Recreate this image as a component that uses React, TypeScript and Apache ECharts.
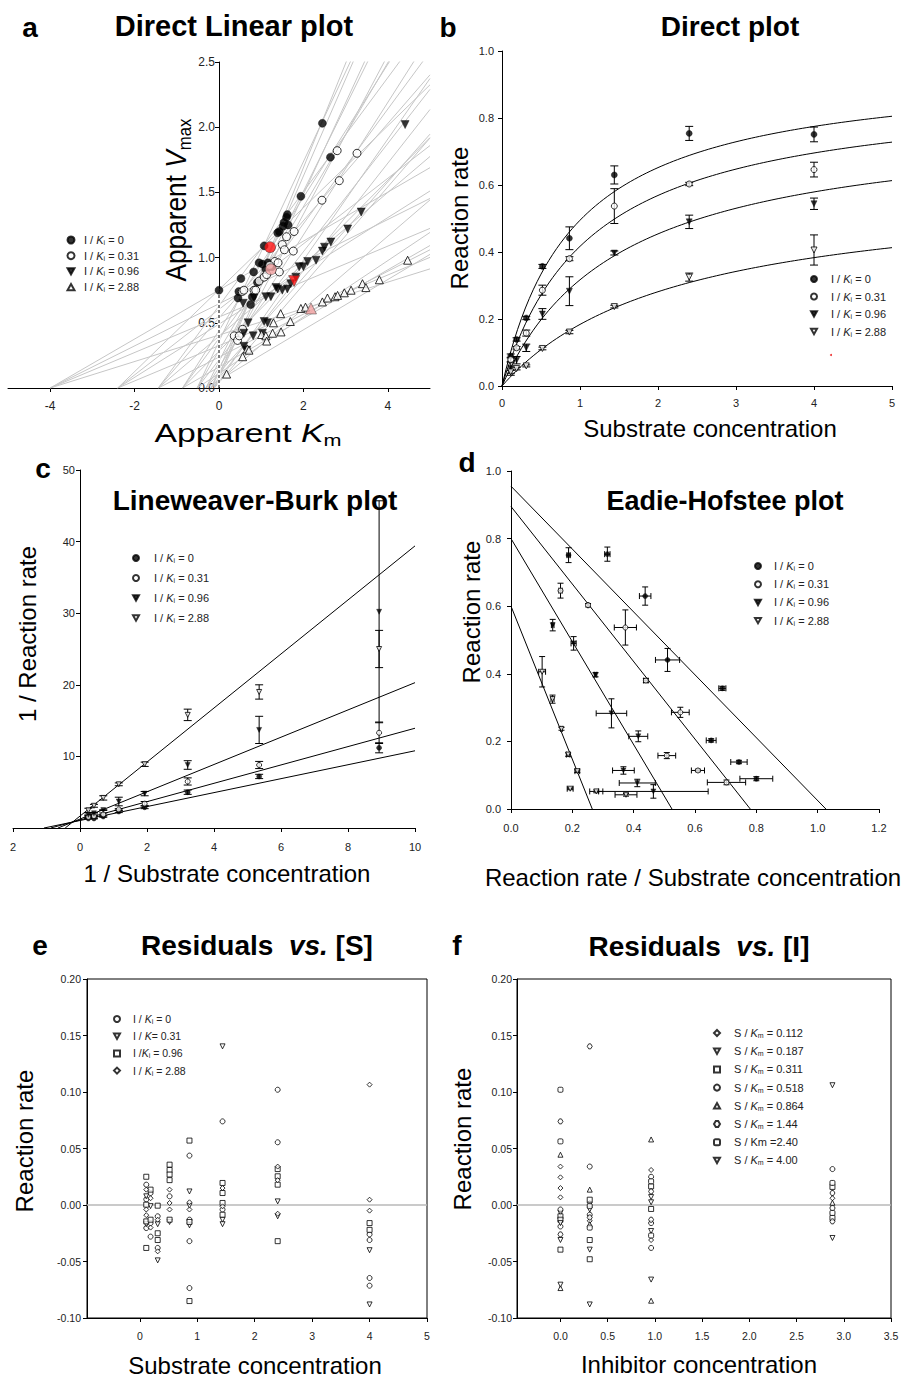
import React, { useEffect, useRef } from "react";
import * as echarts from "echarts";

const FONT = '"Liberation Sans", Arial, Helvetica, sans-serif';

// ---------- shared kinetic data ----------
const substrate = [0.112, 0.187, 0.311, 0.518, 0.864, 1.44, 2.4, 4.0];
const inhibitorLevels = ["0", "0.31", "0.96", "2.88"];

// Panel b: mean reaction rates (per inhibitor level) and their error
const rateI0 = [0.0896, 0.139, 0.203, 0.357, 0.441, 0.63, 0.754, 0.751];
const rateI031 = [0.0787, 0.114, 0.158, 0.286, 0.38, 0.537, 0.603, 0.646];
const rateI096 = [0.052, 0.077, 0.114, 0.215, 0.283, 0.397, 0.49, 0.544];
const rateI288 = [0.042, 0.052, 0.06, 0.112, 0.161, 0.237, 0.325, 0.406];
const errI0 = [0.006, 0.005, 0.005, 0.006, 0.034, 0.027, 0.021, 0.022];
const errI031 = [0.007, 0.004, 0.009, 0.015, 0.006, 0.052, 0.005, 0.022];
const errI096 = [0.02, 0.011, 0.011, 0.016, 0.043, 0.006, 0.02, 0.017];
const errI288 = [0.004, 0.004, 0.003, 0.004, 0.005, 0.004, 0.012, 0.045];

// fitted Michaelis-Menten parameters (apparent Vmax, apparent Km)
const vmaxFit = [0.955, 0.895, 0.8, 0.6];
const kmFit = [0.93, 1.147, 1.524, 2.264];

// Panel a: direct linear plot intersections
const dlpI0 = [[0, 0.75], [0.52, 0.84], [0.47, 0.74], [0.45, 0.69], [0.75, 0.64], [0.79, 0.7], [0.82, 0.89], [1.03, 0.95], [1.11, 0.91], [1.16, 0.96], [1.07, 1.09], [1.39, 1.19], [1.43, 1.2], [1.54, 1.27], [1.6, 1.31], [1.62, 1.33], [1.64, 1.25], [1.94, 1.47], [2.64, 1.77], [2.45, 2.03], [0.91, 0.81], [1.25, 0.93], [0.95, 0.96], [1.52, 1.24]];
const dlpI031 = [[0.36, 0.4], [0.44, 0.365], [0.48, 0.4], [0.56, 0.45], [0.55, 0.74], [0.59, 0.75], [0.83, 0.75], [0.87, 0.75], [0.95, 0.82], [1.07, 0.85], [1.13, 0.87], [1.32, 0.97], [1.43, 0.89], [1.4, 0.96], [1.5, 1.1], [1.55, 1.06], [1.76, 1.05], [1.78, 1.2], [1.6, 1.16], [2.44, 1.44], [2.85, 1.59], [2.8, 1.82], [3.27, 1.8], [1.2, 0.94]];
const dlpI096 = [[0.59, 0.32], [0.66, 0.29], [0.59, 0.42], [0.69, 0.5], [0.57, 0.65], [0.81, 0.4], [1.03, 0.42], [1.07, 0.51], [1.15, 0.5], [0.83, 0.69], [1.11, 0.7], [1.23, 0.7], [1.35, 0.77], [1.39, 0.76], [1.5, 0.75], [1.62, 0.76], [1.7, 0.8], [1.82, 0.85], [1.9, 0.93], [2.0, 0.93], [2.1, 0.97], [2.3, 0.98], [2.45, 1.05], [2.5, 1.08], [2.65, 1.12], [3.05, 1.22], [3.37, 1.35], [4.41, 2.02]];
const dlpI288 = [[0.18, 0.107], [0.56, 0.24], [0.67, 0.3], [0.71, 0.29], [1.01, 0.41], [1.11, 0.4], [1.13, 0.36], [1.27, 0.42], [1.29, 0.5], [1.47, 0.43], [1.46, 0.57], [1.69, 0.51], [1.94, 0.61], [2.05, 0.62], [2.45, 0.66], [2.57, 0.69], [2.75, 0.7], [2.81, 0.71], [2.97, 0.73], [3.13, 0.75], [3.4, 0.8], [3.48, 0.77], [3.8, 0.83], [4.47, 0.98]];
const dlpMedian = [[1.21, 1.08], [1.23, 0.91], [1.78, 0.82], [2.18, 0.61]];

// Panel c: Lineweaver-Burk 1/rate values and error
const lbI0 = [11.2, 7.2, 5.0, 2.9, 2.3, 1.6, 1.33, 1.33];
const lbErrI0 = [0.7, 0.3, 0.3, 0.2, 0.15, 0.1, 0.05, 0.05];
const lbI031 = [13.3, 8.8, 6.5, 3.4, 2.6, 1.9, 1.66, 1.55];
const lbErrI031 = [1.5, 0.5, 0.5, 0.3, 0.1, 0.2, 0.05, 0.1];
const lbI096 = [30.2, 13.7, 8.8, 4.8, 3.7, 2.5, 2.05, 1.84];
const lbErrI096 = [15.5, 1.9, 0.6, 0.3, 0.6, 0.05, 0.1, 0.1];
const lbI288 = [25.0, 19.0, 15.8, 8.9, 6.1, 4.2, 3.1, 2.46];
const lbErrI288 = [2.6, 1.0, 0.8, 0.3, 0.2, 0.3, 0.2, 0.3];

// Panel e: residuals vs [S], grouped by inhibitor level  [S, residual]
const resSI0 = [[0.112, 0.018], [0.112, 0.005], [0.112, -0.0204], [0.187, 0.0106], [0.187, -0.016], [0.187, -0.028], [0.311, -0.01], [0.311, -0.038], [0.518, 0.0077], [0.864, 0.0437], [0.864, -0.013], [0.864, -0.032], [0.864, -0.0735], [1.44, 0.074], [1.44, -0.004], [2.4, 0.102], [2.4, 0.0555], [4, -0.026], [4, -0.031], [4, -0.0646], [4, -0.0714]];
const resSI031 = [[0.112, 0.0077], [0.112, -0.017], [0.187, -0.001], [0.311, -0.017], [0.311, -0.049], [0.518, -0.015], [0.864, 0.012], [0.864, -0.0006], [0.864, -0.018], [1.44, 0.1404], [1.44, -0.013], [1.44, -0.017], [2.4, 0.0032], [2.4, -0.01], [4, -0.04], [4, -0.088]];
const resSI096 = [[0.112, 0.025], [0.112, 0.0003], [0.112, -0.0145], [0.112, -0.038], [0.187, 0.0136], [0.187, -0.013], [0.311, -0.0006], [0.311, -0.025], [0.311, -0.031], [0.518, 0.0357], [0.518, 0.031], [0.518, 0.027], [0.518, 0.022], [0.518, -0.013], [0.864, 0.057], [0.864, -0.015], [0.864, -0.085], [1.44, 0.0195], [1.44, 0.0106], [1.44, 0.0018], [1.44, -0.0086], [2.4, 0.0318], [2.4, 0.0254], [2.4, 0.018], [2.4, -0.032], [4, -0.016], [4, -0.022]];
const resSI288 = [[0.112, 0.0136], [0.112, -0.004], [0.112, -0.009], [0.187, 0.006], [0.187, -0.02], [0.311, -0.013], [0.311, -0.041], [0.518, 0.0136], [0.518, 0.0018], [0.518, -0.004], [0.864, 0.0024], [0.864, -0.004], [1.44, 0.015], [1.44, -0.0012], [2.4, 0.034], [2.4, 0.022], [2.4, -0.0077], [4, 0.1065], [4, 0.0047], [4, -0.005]];

// Panel f: residuals vs [I], grouped by S/Km  [I, residual]
const resI_S0112 = [[0, 0.034], [0, 0.0245], [0, 0.015], [0, 0.0068], [0.31, 0.002], [0.31, -0.014], [0.96, 0.031], [0.96, -0.031], [2.88, 0.006]];
const resI_S0187 = [[0, -0.007], [0, -0.031], [0.31, -0.004], [0.31, -0.0395], [0.96, 0.007], [0.96, -0.023], [2.88, -0.0292]];
const resI_S0311 = [[0, -0.01], [0, -0.013], [0, -0.0395], [0.31, 0.0047], [0.31, -0.031], [0.31, -0.048], [0.96, 0.0165], [0.96, -0.0035], [2.88, 0.016], [2.88, -0.0115]];
const resI_S0518 = [[0, -0.004], [0, -0.019], [0.31, 0.034], [0.31, -0.0086], [0.96, 0.025], [0.96, -0.016], [0.96, -0.038], [2.88, 0.0318], [2.88, -0.0027]];
const resI_S0864 = [[0, 0.0445], [0, -0.0735], [0.31, 0.0136], [0.31, -0.017], [0.96, 0.058], [0.96, -0.0847], [2.88, 0.002]];
const resI_S144 = [[0, 0.074], [0, -0.026], [0.31, 0.1404], [0.31, -0.011], [0.96, 0.012], [0.96, -0.013], [2.88, 0.0106], [2.88, -0.0145]];
const resI_S240 = [[0, 0.102], [0, 0.0563], [0.31, -0.001], [0.31, -0.02], [0.96, 0.021], [0.96, -0.027], [2.88, 0.0195], [2.88, -0.007]];
const resI_S400 = [[0, -0.016], [0, -0.0705], [0.31, -0.088], [0.96, 0.0024], [0.96, -0.066], [2.88, 0.106]];
const sOverKmLabels = ["0.112", "0.187", "0.311", "0.518", "0.864", "1.44", "2.40", "4.00"];

// ---------- helpers ----------
const DOWN = "path://M0,0L10,0L5,9Z";
const UP = "path://M5,0L10,9L0,9Z";
const HEX = "path://M3,0L7,0L10,5L7,10L3,10L0,5Z";
const filled = { color: "#000", borderColor: "#000", borderWidth: 0.5 };
const open = { color: "#fff", borderColor: "#000", borderWidth: 1 };
const kinSym = [
  { symbol: "circle", itemStyle: filled },
  { symbol: "circle", itemStyle: open },
  { symbol: DOWN, itemStyle: filled },
  { symbol: DOWN, itemStyle: open },
];

function axis(gridIndex: number, o: any) {
  const tick: any = { show: true, inside: false, length: 4, lineStyle: { color: "#000", width: 1 } };
  const label: any = {
    show: true,
    fontSize: o.fontSize || 11,
    color: "#222",
    fontFamily: FONT,
    margin: o.margin,
    formatter: o.formatter,
    hideOverlap: false,
  };
  if (o.custom) {
    tick.customValues = o.custom;
    label.customValues = o.custom;
  }
  const a: any = {
    type: "value",
    gridIndex,
    min: o.min,
    max: o.max,
    offset: o.offset || 0,
    axisLine: { show: true, onZero: false, lineStyle: { color: "#000", width: 1 } },
    axisTick: tick,
    axisLabel: label,
    splitLine: { show: false },
  };
  if (o.interval !== undefined) a.interval = o.interval;
  return a;
}

function errorBars(ix: number, data: number[][], cap: number) {
  return {
    type: "custom",
    xAxisIndex: ix,
    yAxisIndex: ix,
    data,
    encode: { x: 0, y: 1 },
    silent: true,
    z: 3,
    renderItem: (_p: any, api: any) => {
      const x = api.value(0);
      const y = api.value(1);
      const ex = api.value(2);
      const ey = api.value(3);
      const style = { stroke: "#000", lineWidth: 1, fill: null };
      const ch: any[] = [];
      const ln = (x1: number, y1: number, x2: number, y2: number) =>
        ch.push({ type: "line", shape: { x1, y1, x2, y2 }, style });
      if (ey > 0) {
        const a = api.coord([x, y - ey]);
        const b = api.coord([x, y + ey]);
        ln(a[0], a[1], b[0], b[1]);
        ln(a[0] - cap, a[1], a[0] + cap, a[1]);
        ln(b[0] - cap, b[1], b[0] + cap, b[1]);
      }
      if (ex > 0) {
        const a = api.coord([x - ex, y]);
        const b = api.coord([x + ex, y]);
        ln(a[0], a[1], b[0], b[1]);
        ln(a[0], a[1] - cap, a[0], a[1] + cap);
        ln(b[0], b[1] - cap, b[0], b[1] + cap);
      }
      return { type: "group", children: ch };
    },
  };
}

function richFor(fs: number, pad: number) {
  const base = { fontFamily: FONT, fontSize: fs, color: "#222", lineHeight: 12 };
  return {
    p: { ...base, padding: [0, 0, 0, pad] },
    n: { ...base },
    k: { ...base, fontStyle: "italic" },
    s: { fontFamily: FONT, fontSize: Math.round(fs * 0.65), color: "#222", lineHeight: 12, verticalAlign: "bottom" },
  };
}

function mkLegend(names: string[], labels: string[], iconCx: number, firstCy: number, spacing: number, textX: number, fs: number, icon: number) {
  const rowH = 12;
  const left = iconCx - icon / 2;
  const pad = Math.max(0, textX - left - icon - 5);
  return {
    data: names,
    orient: "vertical",
    left,
    top: firstCy - rowH / 2,
    itemGap: spacing - rowH,
    itemWidth: icon,
    itemHeight: icon,
    padding: 0,
    selectedMode: false,
    formatter: (name: string) => labels[names.indexOf(name)],
    textStyle: { fontFamily: FONT, fontSize: fs, color: "#222", lineHeight: rowH, rich: richFor(fs, pad) },
  };
}

const kiLabels = inhibitorLevels.map((v) => `{p|I / }{k|K}{s|i}{n| = ${v}}`);

function txt(x: number, y: number, text: string, fontSize: number, opts: any = {}) {
  const weight = opts.bold ? "bold" : "normal";
  const base = { fontFamily: FONT, fontSize, fontWeight: weight, fill: "#000", lineHeight: fontSize + 6 };
  return {
    type: "text",
    x,
    y,
    rotation: opts.rotation || 0,
    scaleX: opts.scaleX || 1,
    scaleY: opts.scaleY || 1,
    silent: true,
    z: 100,
    style: {
      text,
      font: `${weight} ${fontSize}px ${FONT}`,
      fill: "#000",
      align: "center",
      verticalAlign: "middle",
      textAlign: "center",
      textVerticalAlign: "middle",
      rich: {
        a: { ...base },
        i: { ...base, fontStyle: "italic" },
        s: { fontFamily: FONT, fontSize: Math.round(fontSize * 0.62), fontWeight: weight, fill: "#000", lineHeight: fontSize + 6, verticalAlign: "bottom" },
      },
    },
  };
}

function buildOption() {
  const rates = [rateI0, rateI031, rateI096, rateI288];
  const errs = [errI0, errI031, errI096, errI288];
  const lbVals = [lbI0, lbI031, lbI096, lbI288];
  const lbErrs = [lbErrI0, lbErrI031, lbErrI096, lbErrI288];
  const series: any[] = [];

  // ---- a: direct linear plot ----
  rates.forEach((vals) =>
    vals.forEach((v, j) => {
      const s = substrate[j];
      series.push({
        type: "line", xAxisIndex: 0, yAxisIndex: 0, silent: true, z: 1, symbol: "none",
        data: [[-s, 0], [5, v * (1 + 5 / s)]],
        lineStyle: { color: "#c6c6c6", width: 1 },
      });
    })
  );
  series.push({ type: "line", xAxisIndex: 0, yAxisIndex: 0, silent: true, z: 2, symbol: "none", data: [[0, 0.005], [0, 0.74]], lineStyle: { color: "#fff", width: 3 } });
  series.push({ type: "line", xAxisIndex: 0, yAxisIndex: 0, silent: true, z: 3, symbol: "none", data: [[0, 0], [0, 0.74]], lineStyle: { color: "#000", width: 1, type: [3, 2] } });
  [dlpI0, dlpI031, dlpI096, dlpI288].forEach((d, k) =>
    series.push({
      type: "scatter", name: "a" + k, xAxisIndex: 0, yAxisIndex: 0, z: 5, data: d,
      symbol: k === 3 ? UP : kinSym[k].symbol, symbolSize: 8, itemStyle: kinSym[k].itemStyle,
    })
  );
  const medSym = ["circle", "circle", DOWN, UP];
  const medCol = ["#ff1010", "#f4a3a3", "#ff1010", "#f4a3a3"];
  series.push({
    type: "scatter", name: "aMed", xAxisIndex: 0, yAxisIndex: 0, z: 6, symbolSize: 11,
    data: dlpMedian.map((p, k) => ({ value: p, symbol: medSym[k], itemStyle: { color: medCol[k], borderColor: "#333", borderWidth: 0.6 } })),
  });

  // ---- b: direct plot ----
  const curveS: number[] = [];
  for (let i = 0; i <= 100; i++) curveS.push(i * 0.05);
  vmaxFit.forEach((V, k) =>
    series.push({
      type: "line", xAxisIndex: 1, yAxisIndex: 1, silent: true, z: 2, symbol: "none",
      data: curveS.map((s) => [s, (V * s) / (kmFit[k] + s)]),
      lineStyle: { color: "#000", width: 1 },
    })
  );
  series.push(errorBars(1, rates.flatMap((vals, k) => vals.map((v, j) => [substrate[j], v, 0, errs[k][j]])), 4));
  rates.forEach((vals, k) =>
    series.push({
      type: "scatter", name: "b" + k, xAxisIndex: 1, yAxisIndex: 1, z: 5, symbolSize: 6,
      data: vals.map((v, j) => [substrate[j], v]), symbol: kinSym[k].symbol, itemStyle: kinSym[k].itemStyle,
    })
  );

  // ---- c: Lineweaver-Burk ----
  vmaxFit.forEach((V, k) => {
    const K = kmFit[k];
    series.push({
      type: "line", xAxisIndex: 2, yAxisIndex: 2, silent: true, z: 2, symbol: "none",
      data: [[-1 / K, 0], [10, (K / V) * 10 + 1 / V]],
      lineStyle: { color: "#000", width: 1 },
    });
  });
  series.push(errorBars(2, lbVals.flatMap((vals, k) => vals.map((v, j) => [1 / substrate[j], v, 0, lbErrs[k][j]])), 4));
  lbVals.forEach((vals, k) =>
    series.push({
      type: "scatter", name: "c" + k, xAxisIndex: 2, yAxisIndex: 2, z: 5, symbolSize: 5,
      data: vals.map((v, j) => [1 / substrate[j], v]), symbol: kinSym[k].symbol, itemStyle: kinSym[k].itemStyle,
    })
  );

  // ---- d: Eadie-Hofstee ----
  vmaxFit.forEach((V, k) =>
    series.push({
      type: "line", xAxisIndex: 3, yAxisIndex: 3, silent: true, z: 2, symbol: "none",
      data: [[0, V], [V / kmFit[k], 0]],
      lineStyle: { color: "#000", width: 1 },
    })
  );
  series.push(errorBars(3, rates.flatMap((vals, k) => vals.map((v, j) => [v / substrate[j], v, errs[k][j] / substrate[j], errs[k][j]])), 3));
  rates.forEach((vals, k) =>
    series.push({
      type: "scatter", name: "d" + k, xAxisIndex: 3, yAxisIndex: 3, z: 5, symbolSize: 5,
      data: vals.map((v, j) => [v / substrate[j], v]), symbol: kinSym[k].symbol, itemStyle: kinSym[k].itemStyle,
    })
  );

  // ---- e: residuals vs S ----
  const eSym = ["circle", DOWN, "rect", "diamond"];
  [resSI0, resSI031, resSI096, resSI288].forEach((d, k) => {
    const s: any = {
      type: "scatter", name: "e" + k, xAxisIndex: 4, yAxisIndex: 4, z: 5, symbolSize: 5,
      data: d, symbol: eSym[k], itemStyle: open,
    };
    if (k === 0)
      s.markLine = { silent: true, symbol: "none", label: { show: false }, lineStyle: { color: "#b8b8b8", type: "solid", width: 1.5 }, data: [{ yAxis: 0 }] };
    series.push(s);
  });

  // ---- f: residuals vs I ----
  const fSym = ["diamond", DOWN, "rect", "circle", UP, HEX, "roundRect", DOWN];
  [resI_S0112, resI_S0187, resI_S0311, resI_S0518, resI_S0864, resI_S144, resI_S240, resI_S400].forEach((d, k) => {
    const s: any = {
      type: "scatter", name: "f" + k, xAxisIndex: 5, yAxisIndex: 5, z: 5, symbolSize: 5,
      data: d, symbol: fSym[k], itemStyle: open,
    };
    if (k === 0)
      s.markLine = { silent: true, symbol: "none", label: { show: false }, lineStyle: { color: "#b8b8b8", type: "solid", width: 1.5 }, data: [{ yAxis: 0 }] };
    series.push(s);
  });

  const eLabels = [
    "{p|I / }{k|K}{s|i}{n| = 0}",
    "{p|I / }{k|K}{n|= 0.31}",
    "{p|I /}{k|K}{s|i}{n| = 0.96}",
    "{p|I / }{k|K}{s|i}{n| = 2.88}",
  ];
  const fLabels = sOverKmLabels.map((v, i) => (i === 6 ? "{p|S / Km =2.40}" : `{p|S / }{k|K}{s|m}{n| = ${v}}`));

  const f1 = (v: number) => v.toFixed(1);
  const f2 = (v: number) => v.toFixed(2);

  return {
    animation: false,
    backgroundColor: "#fff",
    textStyle: { fontFamily: FONT },
    grid: [
      { left: 8, top: 62, width: 422, height: 326, outerBoundsMode: "none" },
      { left: 502, top: 51, width: 390, height: 335, outerBoundsMode: "none" },
      { left: 13, top: 470, width: 402, height: 358, outerBoundsMode: "none" },
      { left: 511, top: 471, width: 368, height: 338, outerBoundsMode: "none" },
      { left: 87, top: 979, width: 340, height: 339, show: true, borderColor: "#000", borderWidth: 1, outerBoundsMode: "none" },
      { left: 517, top: 979, width: 374, height: 339, show: true, borderColor: "#000", borderWidth: 1, outerBoundsMode: "none" },
    ],
    xAxis: [
      axis(0, { min: -5, max: 5, custom: [-4, -2, 0, 2, 4], margin: 12, fontSize: 12 }),
      axis(1, { min: 0, max: 5, interval: 1, margin: 11 }),
      axis(2, { min: -2, max: 10, interval: 2, margin: 13, formatter: (v: number) => String(Math.abs(v)) }),
      axis(3, { min: 0, max: 1.2, interval: 0.2, margin: 13, formatter: f1 }),
      axis(4, { min: -0.92, max: 5, custom: [0, 1, 2, 3, 4, 5], margin: 12, fontSize: 10.5 }),
      axis(5, { min: -0.46, max: 3.5, custom: [0, 0.5, 1, 1.5, 2, 2.5, 3, 3.5], margin: 12, fontSize: 10.5, formatter: f1 }),
    ],
    yAxis: [
      axis(0, { min: 0, max: 2.5, interval: 0.5, margin: 4, fontSize: 12, offset: -211, formatter: f1 }),
      axis(1, { min: 0, max: 1, interval: 0.2, margin: 8, formatter: f1 }),
      axis(2, { min: 0, max: 50, interval: 10, margin: 5, offset: -67, formatter: (v: number) => (v === 0 ? "" : String(v)) }),
      axis(3, { min: 0, max: 1, interval: 0.2, margin: 10, formatter: f1 }),
      axis(4, { min: -0.1, max: 0.2, interval: 0.05, margin: 6, fontSize: 10.5, formatter: f2 }),
      axis(5, { min: -0.1, max: 0.2, interval: 0.05, margin: 5, fontSize: 10.5, formatter: f2 }),
    ],
    legend: [
      mkLegend(["a0", "a1", "a2", "a3"], kiLabels, 70, 240, 15.7, 83, 11, 7),
      mkLegend(["b0", "b1", "b2", "b3"], kiLabels, 813, 279, 17.5, 830, 11, 6),
      mkLegend(["c0", "c1", "c2", "c3"], kiLabels, 135, 558, 20, 153, 11, 6),
      mkLegend(["d0", "d1", "d2", "d3"], kiLabels, 757, 566, 18.2, 773, 11, 6),
      mkLegend(["e0", "e1", "e2", "e3"], eLabels, 116, 1019, 17.2, 132, 10.5, 6),
      mkLegend(["f0", "f1", "f2", "f3", "f4", "f5", "f6", "f7"], fLabels, 716, 1033, 18.2, 733, 11, 6),
    ],
    series,
    graphic: {
      elements: [
        // panel letters
        txt(30, 27, "a", 28, { bold: true }),
        txt(448, 27, "b", 28, { bold: true }),
        txt(43, 468, "c", 28, { bold: true }),
        txt(467, 462, "d", 28, { bold: true }),
        txt(40, 945, "e", 28, { bold: true }),
        txt(457, 945, "f", 28, { bold: true }),
        // titles
        txt(234, 26, "Direct Linear plot", 29, { bold: true }),
        txt(730, 26, "Direct plot", 28, { bold: true }),
        txt(255, 500, "Lineweaver-Burk plot", 28, { bold: true }),
        txt(725, 501, "Eadie-Hofstee plot", 27, { bold: true }),
        txt(257, 945, "{a|Residuals  }{i|vs.}{a| [S]}", 28, { bold: true }),
        txt(699, 946, "{a|Residuals  }{i|vs.}{a| [I]}", 28, { bold: true }),
        // axis names
        txt(248, 433, "{a|Apparent }{i|K}{s|m}", 25, { scaleX: 1.35 }),
        txt(176, 200, "{a|Apparent }{i|V}{s|max}", 25, { rotation: Math.PI / 2, scaleX: 1.05, scaleY: 1.15 }),
        txt(710, 428, "Substrate concentration", 24),
        txt(459, 218, "Reaction rate", 24, { rotation: Math.PI / 2 }),
        txt(227, 873, "1 / Substrate concentration", 24),
        txt(27, 634, "1 / Reaction rate", 24, { rotation: Math.PI / 2 }),
        txt(693, 877, "Reaction rate / Substrate concentration", 24),
        txt(471, 612, "Reaction rate", 24, { rotation: Math.PI / 2 }),
        txt(255, 1365, "Substrate concentration", 24),
        txt(24, 1141, "Reaction rate", 24, { rotation: Math.PI / 2 }),
        txt(699, 1364, "Inhibitor concentration", 24),
        txt(462, 1139, "Reaction rate", 24, { rotation: Math.PI / 2 }),
        { type: "circle", shape: { cx: 831, cy: 355, r: 1 }, style: { fill: "#e33" }, silent: true },
      ],
    },
  };
}

export default function App() {
  const ref = useRef<HTMLDivElement>(null);
  useEffect(() => {
    if (!ref.current) return;
    const chart = echarts.init(ref.current, null, { renderer: "svg" });
    chart.setOption(buildOption() as any);
    return () => chart.dispose();
  }, []);
  return (
    <div
      ref={ref}
      style={{ position: "absolute", left: 0, top: 0, width: 920, height: 1378, background: "#fff" }}
    />
  );
}
